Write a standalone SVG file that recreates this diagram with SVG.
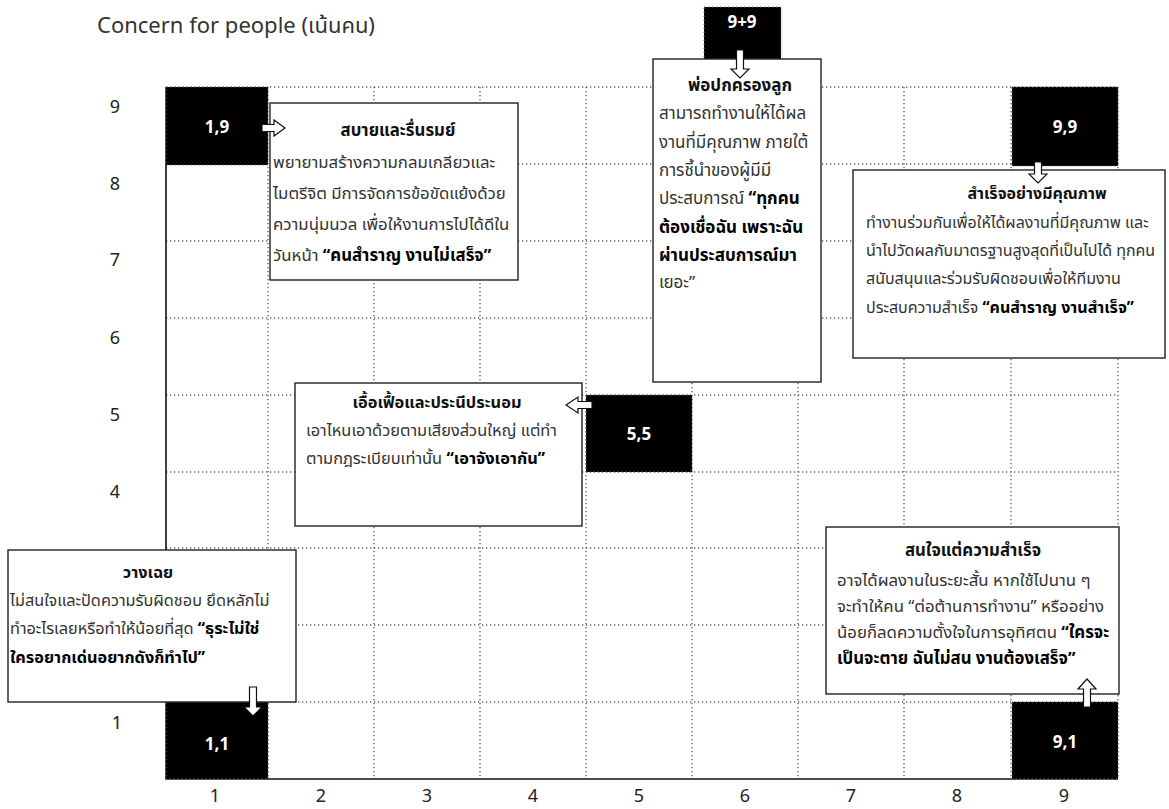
<svg xmlns="http://www.w3.org/2000/svg" width="1169" height="809" viewBox="0 0 1169 809">
<style>
text{font-family:"Noto Sans Thai","Tahoma","Leelawadee UI","Noto Sans","DejaVu Sans",sans-serif;}
.grid{stroke:#666;stroke-width:1.4;stroke-dasharray:1.3 2.7;fill:none}
.axis{stroke:#111;stroke-width:1.6;fill:none}
.blk{fill:#000;stroke:#777;stroke-width:1;stroke-dasharray:1.3 2.7}
.bx{fill:#fff;stroke:#222;stroke-width:1.4}
.bl{fill:#fff;font-size:17px;font-weight:bold;text-anchor:middle}
.ax{fill:#222;font-size:18px;text-anchor:middle}
.ti{fill:#111;font-weight:bold;text-anchor:middle}
.tx{fill:#333}
.b{fill:#000;font-weight:bold}
.arr{fill:#fff;stroke:#111;stroke-width:1.2}
</style>
<rect width="1169" height="809" fill="#fff"/>
<text x="97" y="33" style="font-size:22px;fill:#333">Concern for people (เน้นคน)</text>
<g id="grid">
<path class="grid" d="M268,87V779M374,87V779M480,87V779M586,87V779M692,87V779M798,87V779M904,87V779M1011,87V779M1118,87V779"/>
<path class="grid" d="M166,87H1118M166,164H1118M166,241H1118M166,318H1118M166,395H1118M166,472H1118M166,548H1118M166,625H1118M166,702H1118"/>
<path class="axis" d="M166,87V779H1118"/>
</g>
<g id="axis-labels">
<text class="ax" x="115" y="113">9</text>
<text class="ax" x="115" y="190">8</text>
<text class="ax" x="115" y="266">7</text>
<text class="ax" x="115" y="344">6</text>
<text class="ax" x="115" y="421">5</text>
<text class="ax" x="115" y="498">4</text>
<text class="ax" x="117" y="729">1</text>
<text class="ax" x="215" y="802">1</text>
<text class="ax" x="321" y="802">2</text>
<text class="ax" x="427" y="802">3</text>
<text class="ax" x="533" y="802">4</text>
<text class="ax" x="639" y="802">5</text>
<text class="ax" x="745" y="802">6</text>
<text class="ax" x="851" y="802">7</text>
<text class="ax" x="957" y="802">8</text>
<text class="ax" x="1064" y="802">9</text>
</g>
<g id="n19"><rect class="blk" x="166" y="87" width="102" height="78"/><text class="bl" x="217" y="133">1,9</text></g>
<g id="n99"><rect class="blk" x="1012" y="87" width="106" height="79"/><text class="bl" x="1065" y="133">9,9</text></g>
<g id="n55"><rect class="blk" x="586" y="395" width="106" height="77"/><text class="bl" x="639" y="440">5,5</text></g>
<g id="n11"><rect class="blk" x="166" y="702" width="102" height="77"/><text class="bl" x="217" y="750">1,1</text></g>
<g id="n91"><rect class="blk" x="1012" y="702" width="106" height="77"/><text class="bl" x="1065" y="748">9,1</text></g>
<g id="n9p9"><rect class="blk" x="704" y="7" width="77" height="52"/><text class="bl" x="742" y="28">9+9</text></g>
<g id="box-country" style="font-size:16.8px">
<rect class="bx" x="270" y="103" width="248" height="177"/>
<text class="ti" x="398" y="136">สบายและรื่นรมย์</text>
<text class="tx" x="273" y="168">พยายามสร้างความกลมเกลียวและ</text>
<text class="tx" x="273" y="199">ไมตรีจิต มีการจัดการข้อขัดแย้งด้วย</text>
<text class="tx" x="273" y="230">ความนุ่มนวล เพื่อให้งานการไปได้ดีใน</text>
<text class="tx" x="273" y="261">วันหน้า <tspan class="b">“คนสำราญ งานไม่เสร็จ”</tspan></text>
</g>
<g id="box-paternal" style="font-size:17px">
<rect class="bx" x="653" y="59" width="168" height="323"/>
<text class="ti" x="740" y="91">พ่อปกครองลูก</text>
<text class="tx" x="659" y="119">สามารถทำงานให้ได้ผล</text>
<text class="tx" x="659" y="148">งานที่มีคุณภาพ ภายใต้</text>
<text class="tx" x="659" y="176">การชี้นำของผู้มีมี</text>
<text class="tx" x="659" y="204">ประสบการณ์ <tspan class="b">“ทุกคน</tspan></text>
<text class="tx b" x="659" y="233">ต้องเชื่อฉัน เพราะฉัน</text>
<text class="tx b" x="659" y="261">ผ่านประสบการณ์มา</text>
<text class="tx" x="659" y="288">เยอะ”</text>
</g>
<g id="box-team" style="font-size:16px">
<rect class="bx" x="853" y="170" width="312" height="188"/>
<text class="ti" x="1037" y="199">สำเร็จอย่างมีคุณภาพ</text>
<text class="tx" x="866" y="228">ทำงานร่วมกันเพื่อให้ได้ผลงานที่มีคุณภาพ และ</text>
<text class="tx" x="866" y="256">นำไปวัดผลกับมาตรฐานสูงสุดที่เป็นไปได้ ทุกคน</text>
<text class="tx" x="866" y="284">สนับสนุนและร่วมรับผิดชอบเพื่อให้ทีมงาน</text>
<text class="tx" x="866" y="313">ประสบความสำเร็จ <tspan class="b">“คนสำราญ งานสำเร็จ”</tspan></text>
</g>
<g id="box-middle" style="font-size:16.4px">
<rect class="bx" x="295" y="383" width="287" height="143"/>
<text class="ti" x="437" y="408">เอื้อเฟื้อและประนีประนอม</text>
<text class="tx" x="306" y="436">เอาไหนเอาด้วยตามเสียงส่วนใหญ่ แต่ทำ</text>
<text class="tx" x="306" y="464">ตามกฎระเบียบเท่านั้น <tspan class="b">“เอาจังเอากัน”</tspan></text>
</g>
<g id="box-impoverished" style="font-size:16.3px">
<rect class="bx" x="8" y="550" width="288" height="152"/>
<text class="ti" x="148" y="578">วางเฉย</text>
<text class="tx" x="10" y="606">ไม่สนใจและปัดความรับผิดชอบ ยึดหลักไม่</text>
<text class="tx" x="10" y="634">ทำอะไรเลยหรือทำให้น้อยที่สุด <tspan class="b">“ธุระไม่ใช่</tspan></text>
<text class="tx b" x="10" y="663">ใครอยากเด่นอยากดังก็ทำไป”</text>
</g>
<g id="box-authority" style="font-size:16.8px">
<rect class="bx" x="826" y="527" width="293" height="167"/>
<text class="ti" x="973" y="556">สนใจแต่ความสำเร็จ</text>
<text class="tx" x="837" y="586">อาจได้ผลงานในระยะสั้น หากใช้ไปนาน ๆ</text>
<text class="tx" x="837" y="612">จะทำให้คน “ต่อต้านการทำงาน” หรืออย่าง</text>
<text class="tx" x="837" y="638">น้อยก็ลดความตั้งใจในการอุทิศตน <tspan class="b">“ใครจะ</tspan></text>
<text class="tx b" x="837" y="664">เป็นจะตาย ฉันไม่สน งานต้องเสร็จ”</text>
</g>
<g id="connectors">
<path class="arr" d="M262,124.5H274V120L285,128L274,136V131.5H262Z"/>
<path class="arr" d="M592,401.5H578V397L566,405L578,413V408.5H592Z"/>
<path class="arr" d="M736.5,50V69H731L740,78L749,69H743.5V50Z"/>
<path class="arr" d="M1034.5,162V174H1029L1038,183L1047,174H1041.5V162Z"/>
<path class="arr" d="M249.5,687V707H244L253,716L262,707H256.5V687Z"/>
<path class="arr" d="M1083.5,707V689H1078L1087,679L1096,689H1090.5V707Z"/>
</g>
</svg>
